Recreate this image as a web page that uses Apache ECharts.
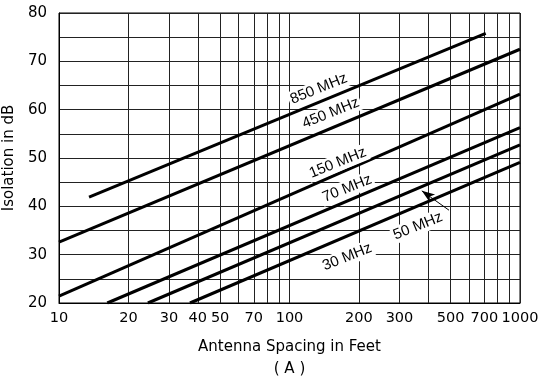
<!DOCTYPE html>
<html>
<head>
<meta charset="utf-8">
<script src="https://cdn.jsdelivr.net/npm/echarts@6/dist/echarts.min.js"></script>
<style>
  html, body { margin: 0; padding: 0; background: #fff; }
  #chart { width: 540px; height: 380px; }
</style>
</head>
<body>
<div id="chart"></div>
<script>
// isolation lines: straight runs on a log spacing axis
var freqs = ['850 MHz', '450 MHz', '150 MHz', '70 MHz', '50 MHz', '30 MHz'];
var spacingStart = [13.5, 10, 10, 16.2, 24.3, 37];
var spacingEnd = [710, 1000, 1000, 1000, 1000, 1000];
var dbStart = [41.9, 32.6, 21.4, 20, 20, 20];
var dbEnd = [75.8, 72.5, 63.2, 56.3, 52.7, 49.1];

// where each frequency label sits (feet, dB)
var labelSpacing = [134, 151, 162, 178, 361, 178];
var labelDb = [64.3, 59.3, 49.0, 43.7, 35.9, 29.5];

var xGridValues = [10, 20, 30, 40, 50, 60, 70, 80, 90, 100, 200, 300, 400, 500, 600, 700, 800, 900, 1000];
var xTickLabels = [10, 20, 30, 40, 50, 70, 100, 200, 300, 500, 700, 1000];

var font = '"Liberation Sans", Arial, sans-serif';
var axisFont = '"DejaVu Sans", sans-serif';
var chart = echarts.init(document.getElementById('chart'));

var series = freqs.map(function (name, i) {
    var s = {
        type: 'line',
        name: name,
        data: [[spacingStart[i], dbStart[i]], [spacingEnd[i], dbEnd[i]]],
        showSymbol: false,
        lineStyle: { color: '#000', width: 3 },
        silent: true,
        z: 3,
        markPoint: {
            symbol: 'circle',
            symbolSize: 0,
            silent: true,
            data: [{
                coord: [labelSpacing[i], labelDb[i]],
                label: {
                    show: true,
                    position: 'inside',
                    formatter: name,
                    rotate: 22,
                    color: '#000',
                    fontFamily: font,
                    fontSize: 15,
                    backgroundColor: '#fff',
                    padding: [1, 2]
                }
            }]
        }
    };
    if (name === '50 MHz') {
        s.markLine = {
            silent: true,
            symbol: ['none', 'arrow'],
            symbolSize: [7, 13],
            label: { show: false },
            lineStyle: { color: '#000', width: 1, type: 'solid' },
            data: [[{ coord: [492, 39.2] }, { coord: [375, 43.2] }]]
        };
    }
    return s;
});

chart.setOption({
    animation: false,
    grid: {
        left: 59, right: 20, top: 13, bottom: 77,
        outerBoundsMode: 'none',
        show: true, borderColor: '#000', borderWidth: 1
    },
    xAxis: {
        type: 'log',
        logBase: 10,
        min: 10,
        max: 1000,
        name: 'Antenna Spacing in Feet\n( A )',
        nameLocation: 'middle',
        nameGap: 33,
        nameTextStyle: { color: '#000', fontFamily: axisFont, fontSize: 15, lineHeight: 22 },
        axisLine: { lineStyle: { color: '#000', width: 1 } },
        axisTick: { show: false, customValues: xGridValues },
        splitLine: { show: true, lineStyle: { color: '#222', width: 1 } },
        axisLabel: {
            customValues: xTickLabels, color: '#000', fontFamily: axisFont, fontSize: 14.5, margin: 8,
            formatter: function (v) { return String(v); }
        }
    },
    yAxis: {
        type: 'value',
        min: 20,
        max: 80,
        interval: 5,
        name: 'Isolation in dB',
        nameLocation: 'middle',
        nameGap: 41,
        nameTextStyle: { color: '#000', fontFamily: axisFont, fontSize: 15 },
        axisLine: { show: true, lineStyle: { color: '#000', width: 1 } },
        axisTick: { show: false },
        splitLine: { show: true, lineStyle: { color: '#222', width: 1 } },
        axisLabel: {
            color: '#000', fontFamily: axisFont, fontSize: 15, margin: 12,
            formatter: function (v) { return v % 10 === 0 ? String(v) : ''; }
        }
    },
    series: series
});
</script>
</body>
</html>
